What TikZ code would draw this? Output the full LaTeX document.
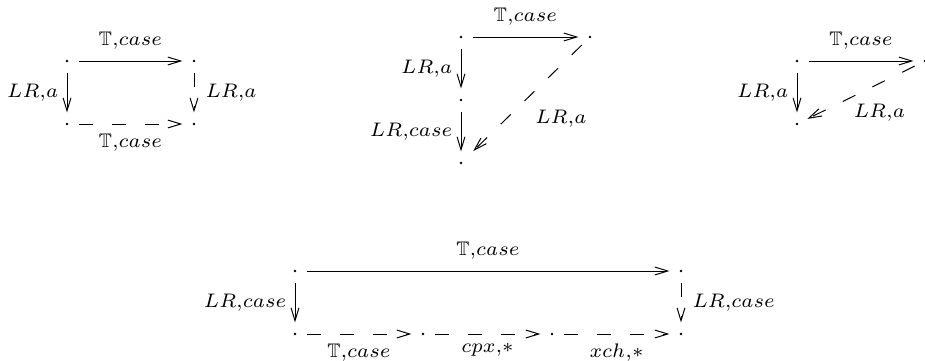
\documentclass[tikz,border=0pt]{standalone}
\usepackage{amsmath,amssymb}
\usepackage{tikz}
\usetikzlibrary{arrows.meta}

\begin{document}
\begin{tikzpicture}[x=0.357pt,y=0.357pt,font=\scriptsize,line width=0.35pt,
  pt/.style={circle,minimum size=7.9pt,inner sep=0pt,
    path picture={\fill (path picture bounding box.center) circle (0.5pt);}},
  arr/.style={-{Straight Barb[length=4.6pt,width=2.8pt]}},
  dsh/.style={arr,dash pattern=on 5pt off 6.8pt}]
  \useasboundingbox (0,0) rectangle (925,360);
  % square
  \node[pt](a1)at(67,299){};\node[pt](a2)at(194,299){};
  \node[pt](a3)at(67,236){};\node[pt](a4)at(194,236){};
  \draw[arr](a1)--node[above=0.6pt]{$\mathbb{T}{,}case$}(a2);
  \draw[arr](a1)--node[left=-0.4pt]{$LR{,}a$}(a3);
  \draw[dsh](a2)--node[right=0.6pt]{$LR{,}a$}(a4);
  \draw[dsh](a3)--node[below]{$\mathbb{T}{,}case$}(a4);
  % triangle
  \node[pt](b1)at(461,323){};\node[pt](b2)at(590,323){};
  \node[pt](b3)at(461,260){};\node[pt](b4)at(461,197){};
  \draw[arr](b1)--node[above=0.6pt]{$\mathbb{T}{,}case$}(b2);
  \draw[arr](b1)--node[left=-0.4pt]{$LR{,}a$}(b3);
  \draw[arr](b3)--node[left=-0.4pt]{$LR{,}case$}(b4);
  \draw[dsh,shorten >=2pt](b2)--node[below right]{$LR{,}a$}(b4);
  % small triangle, cut at the edge
  \node[pt](c1)at(797,299){};\node[pt](c2)at(925,299){};
  \node[pt](c3)at(797,236){};
  \draw[arr](c1)--node[above=0.6pt]{$\mathbb{T}{,}case$}(c2);
  \draw[arr](c1)--node[left=-0.4pt]{$LR{,}a$}(c3);
  \draw[dsh](c2)--node[pos=0.58,below right,xshift=-3pt,yshift=1pt]{$LR{,}a$}(c3);
  % long rectangle
  \node[pt](d1)at(295,89){};\node[pt](d2)at(681,89){};
  \foreach \i/\x in {1/295,2/423,3/552,4/681}
    \node[pt](e\i)at(\x,26){};
  \draw[arr](d1)--node[above=0.6pt]{$\mathbb{T}{,}case$}(d2);
  \draw[arr](d1)--node[left=-0.4pt]{$LR{,}case$}(e1);
  \draw[dsh](d2)--node[right=0.6pt]{$LR{,}case$}(e4);
  \foreach \i/\j/\lab in {1/2/{\mathbb{T}{,}case},2/3/{cpx{,}\ast},3/4/{xch{,}\ast}}
    \draw[dsh](e\i)--node[below]{$\lab$}(e\j);
\end{tikzpicture}
\end{document}
